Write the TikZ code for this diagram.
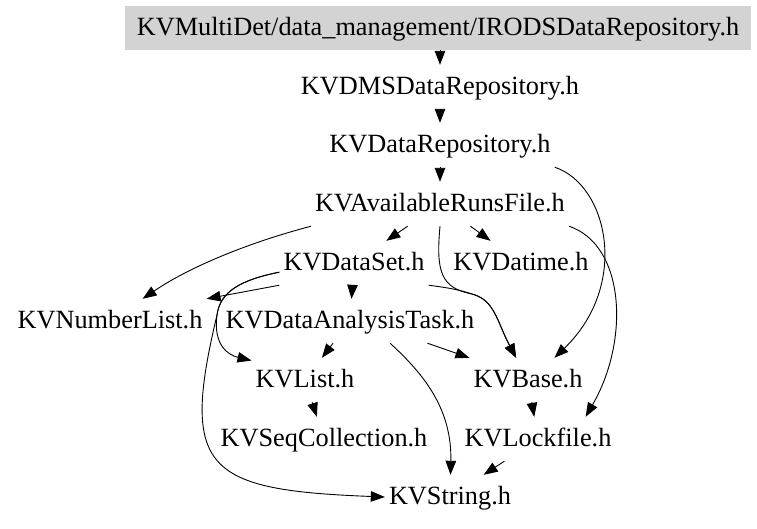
\documentclass[tikz,border=0pt]{standalone}
\usepackage{fontspec}
\setmainfont{Liberation Serif}
\usepackage{tikz}
\usetikzlibrary{arrows.meta,positioning}
\definecolor{hdrgray}{RGB}{211,211,211}

\begin{document}
\begin{tikzpicture}[x=1pt,y=-1pt,
    file/.style={font=\fontsize{26.3}{30}\selectfont,inner xsep=4pt,inner ysep=10pt,text height=19pt,text depth=5pt,anchor=base},
    inc/.style={-{Triangle[length=14pt,width=10.5pt]},line width=0.9pt}]
  \useasboundingbox (0,0) rectangle (757,528);
  % header files, one row per rank
  \node[file,fill=hdrgray,minimum width=626pt] (irods) at (438,35) {KVMultiDet/data\_management/IRODSDataRepository.h};
  \node[file] (dms) at (440,94) {KVDMSDataRepository.h};
  \node[file] (drep) at (440,152) {KVDataRepository.h};
  \node[file] (arf) at (440,211) {KVAvailableRunsFile.h};
  \node[file] (dataset) at (354,270) {KVDataSet.h}; \node[file] (datime) at (521,270) {KVDatime.h};
  \node[file] (numlist) at (110,328) {KVNumberList.h}; \node[file] (analysis) at (350,328) {KVDataAnalysisTask.h};
  \node[file] (list) at (305,387) {KVList.h}; \node[file] (base) at (528,387) {KVBase.h};
  \node[file] (seqcoll) at (324,446) {KVSeqCollection.h}; \node[file] (lock) at (538,446) {KVLockfile.h};
  \node[file] (string) at (450,504) {KVString.h};
  \coordinate (fork) at (217,315); \coordinate (join) at (472,294);
  % include edges
  \draw[inc] (irods.south -| dms.north) -- (dms.north);
  \draw[inc] (dms) -- (drep); \draw[inc] (drep) -- (arf);
  \draw[inc] (drep.south east) .. controls (608,185) and (630,285) .. (base.40);
  \draw[inc] (arf) -- (dataset); \draw[inc] (arf) -- (datime);
  \draw[inc] (arf.south west) .. controls (240,245) and (185,270) .. (numlist);
  \draw[inc] (arf.south) .. controls (436,270) and (440,288) .. (join) .. controls (495,300) and (497,322) .. (base);
  \draw[inc] (dataset.south east) .. controls (450,288) and (460,290) .. (join) .. controls (495,300) and (497,322) .. (base);
  \draw[inc] (arf.south east) .. controls (625,245) and (630,340) .. (lock.25);
  \draw[inc] (dataset) -- (analysis);
  \draw[inc] (dataset.south west) -- (numlist.north east);
  \draw[inc] (dataset.187) .. controls (240,280) and (220,292) .. (fork) .. controls (213,345) and (228,355) .. (list.160);
  \draw[inc] (dataset.187) .. controls (240,280) and (220,292) .. (fork) .. controls (180,470) and (205,490) .. (string.west);
  \draw[inc] (analysis) -- (list); \draw[inc] (analysis.-16) -- (base.north west);
  \draw[inc] (analysis.-29) .. controls (425,375) and (452,410) .. (string);
  \draw[inc] (list) -- (seqcoll); \draw[inc] (base) -- (lock); \draw[inc] (lock) -- (string);
\end{tikzpicture}
\end{document}
